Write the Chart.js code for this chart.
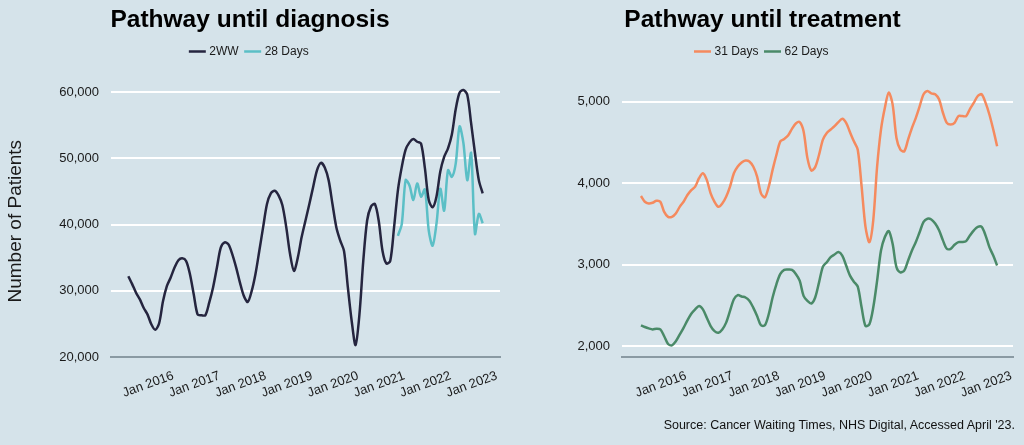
<!DOCTYPE html>
<html>
<head>
<meta charset="utf-8">
<script src="https://cdn.jsdelivr.net/npm/chart.js@4"></script>
<style>
body{margin:0;background:#d5e3ea;width:1024px;height:445px;overflow:hidden;position:relative;font-family:"Liberation Sans",Arial,sans-serif}
.box{position:absolute;top:0;width:512px;height:445px}
#source{position:absolute;right:9px;top:418px;font-size:12.5px;color:#111}
</style>
</head>
<body>
<div class="box" style="left:0"><canvas id="diag"></canvas></div>
<div class="box" style="left:512px"><canvas id="treat"></canvas></div>
<div id="source">Source: Cancer Waiting Times, NHS Digital, Accessed April '23.</div>
<script>
// months from Jun 2015 (index 0) to Feb 2023 (index 92)
var firstYear = 2016, janIndex = 7;
var tickYears = [2016, 2017, 2018, 2019, 2020, 2021, 2022, 2023];

var twoWeekWait = [32200,31000,29700,28700,27400,26400,24900,24100,25100,28400,30700,32000,33500,34600,34900,34500,32500,29400,26400,26300,26300,28200,30500,33500,36500,37300,37000,35500,33500,31200,29200,28300,29900,32500,36000,39600,43100,44700,45100,44400,42900,39600,35500,33000,35000,38100,40600,43100,45700,48200,49300,48600,46700,43100,39600,37600,36000,30500,25400,21800,26400,34500,40600,42700,43100,40600,36000,34100,34500,39600,45200,48700,51300,52400,52900,52500,52200,48500,43700,42600,44200,48000,50200,51500,53600,57400,59900,60300,59600,55300,50800,46700,44700];
var twentyEightStart = 70;
var twentyEightDays = [38300,40100,46700,45900,43700,46200,44200,45300,39100,36800,40100,45400,42100,48200,47200,49200,54800,52300,46700,50800,38600,41600,40200];

var thirtyOneDays = [3841,3771,3750,3759,3783,3771,3647,3586,3586,3627,3709,3771,3854,3915,3957,4060,4122,4040,3874,3771,3709,3750,3833,3957,4122,4204,4254,4278,4266,4204,4080,3874,3825,3957,4163,4348,4513,4542,4584,4666,4732,4749,4637,4307,4155,4196,4348,4534,4616,4658,4699,4749,4790,4740,4625,4513,4410,3957,3462,3276,3544,4204,4658,4926,5111,4967,4555,4410,4390,4534,4678,4802,4946,5091,5132,5103,5091,5029,4864,4740,4720,4740,4823,4823,4823,4913,4988,5070,5091,4988,4843,4658,4452];
var sixtyTwoDays = [2254,2233,2216,2204,2212,2204,2120,2025,2008,2058,2140,2223,2315,2396,2450,2491,2450,2347,2245,2183,2163,2204,2287,2431,2575,2625,2608,2596,2555,2472,2369,2254,2254,2390,2596,2761,2885,2934,2938,2934,2885,2802,2616,2555,2522,2596,2781,2975,3029,3091,3124,3153,3111,2988,2864,2790,2728,2472,2245,2266,2472,2802,3173,3338,3412,3255,2967,2905,2926,3049,3173,3276,3400,3524,3563,3553,3503,3421,3297,3194,3194,3243,3276,3276,3288,3359,3421,3462,3462,3359,3214,3111,2988];

function toPoints(values, start){
  var pts = [];
  for(var i=0;i<values.length;i++){ pts.push({x: start + i, y: values[i]}); }
  return pts;
}

function series(label, values, start, color){
  return {label: label, data: toPoints(values, start), borderColor: color, backgroundColor: color,
    borderWidth: 2.5, pointRadius: 0, tension: 0.3, fill: false};
}

var txt = '#1a1a1a';
Chart.defaults.font.family = '"Liberation Sans", Arial, sans-serif';

// extra room under the legend
var legendGap = {
  id: 'legendGap',
  beforeInit: function(chart){
    var fit = chart.legend.fit;
    chart.legend.fit = function(){ fit.bind(chart.legend)(); this.height += 18; };
  }
};

function buildOptions(title, yMin, yMax, yStep, xMin, yWidth, rightPad, yTitle){
  return {
    responsive: false, animation: false,
    layout: {padding: {left: 0, right: rightPad, top: 6, bottom: 0}},
    plugins: {
      title: {display: true, text: title, color: '#000', font: {size: 24.5, weight: 'bold'}, padding: {top: 0, bottom: 2}},
      legend: {labels: {usePointStyle: true, pointStyle: 'line', boxWidth: 20, color: txt, font: {size: 12}, padding: 8}},
      tooltip: {enabled: false}
    },
    scales: {
      x: {type: 'linear', min: xMin, max: xMin + 101,
        afterBuildTicks: function(axis){ axis.ticks = tickYears.map(function(y){ return {value: janIndex + (y - firstYear) * 12}; }); },
        afterFit: function(axis){ axis.height = 88; },
        ticks: {color: txt, font: {size: 13}, minRotation: 20, maxRotation: 20, padding: 5, labelOffset: 18,
          callback: function(v){ return 'Jan ' + (firstYear + Math.round((v - janIndex) / 12)); }},
        grid: {display: false, drawTicks: true, tickLength: 6, tickColor: '#333'},
        border: {display: true, color: '#8a9aa3', width: 2}
      },
      y: {min: yMin, max: yMax,
        afterBuildTicks: function(axis){ var t=[]; for(var v=Math.ceil(yMin/yStep)*yStep; v<=yMax; v+=yStep){ t.push({value:v}); } axis.ticks=t; },
        afterFit: function(axis){ axis.width = yWidth; },
        ticks: {color: txt, font: {size: 13}, padding: 12, callback: function(v){ return v.toLocaleString('en-GB'); }},
        grid: {color: '#ffffff', lineWidth: 2, drawTicks: false},
        border: {display: false},
        title: {display: !!yTitle, text: yTitle, color: txt, font: {size: 19}, padding: {bottom: 8}}
      }
    }
  };
}

function makeCanvas(id){
  var c = document.getElementById(id);
  c.width = 512; c.height = 445;
  c.style.width = '512px'; c.style.height = '445px';
  return c;
}

new Chart(makeCanvas('diag'), {
  type: 'line',
  data: {datasets: [series('2WW', twoWeekWait, 0, '#25253f'), series('28 Days', twentyEightDays, twentyEightStart, '#5bbfc6')]},
  options: buildOptions('Pathway until diagnosis', 20000, 61000, 10000, -4.5, 111, 12, 'Number of Patients'),
  plugins: [legendGap]
});

new Chart(makeCanvas('treat'), {
  type: 'line',
  data: {datasets: [series('31 Days', thirtyOneDays, 0, '#f58a5e'), series('62 Days', sixtyTwoDays, 0, '#4a8a68')]},
  options: buildOptions('Pathway until treatment', 1865, 5200, 1000, -4.9, 110, 11, ''),
  plugins: [legendGap]
});
</script>
</body>
</html>
